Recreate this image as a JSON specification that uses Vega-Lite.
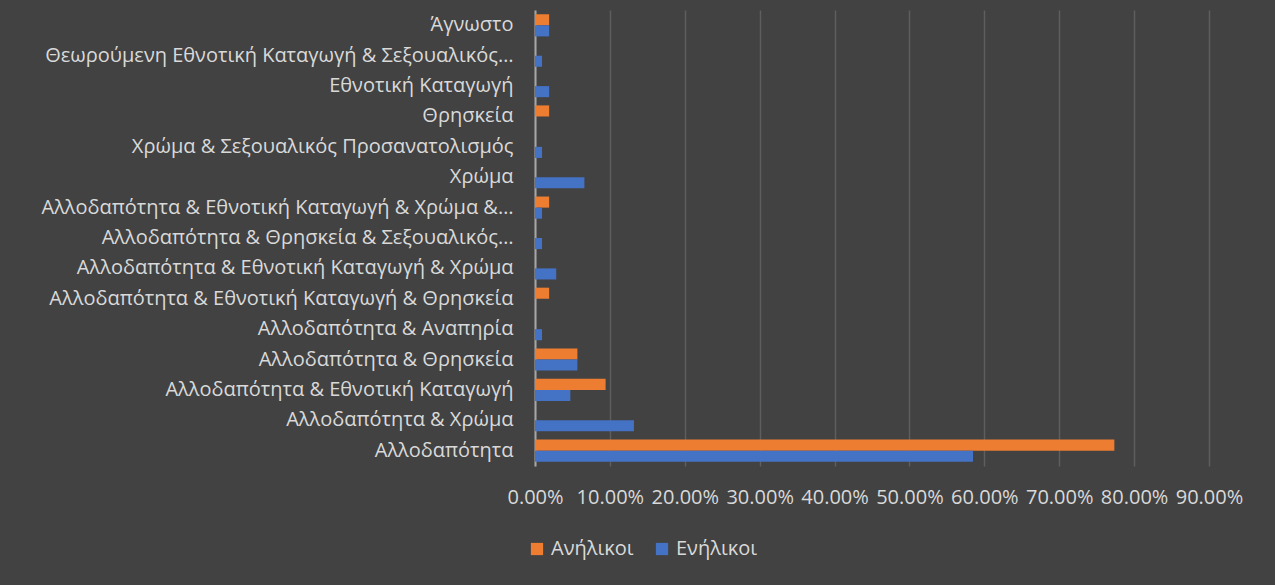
{
  "$schema": "https://vega.github.io/schema/vega-lite/v6.json",
  "autosize": "none",
  "width": 674,
  "height": 456,
  "padding": {"left": 535, "top": 10, "right": 66, "bottom": 119},
  "background": "#424242",
  "config": {"view": {"stroke": null}, "font": "Open Sans"},
  "data": {
    "values": [
      {"category": "Αλλοδαπότητα", "group": "Ανήλικοι", "value": 0.7736},
      {"category": "Αλλοδαπότητα", "group": "Ενήλικοι", "value": 0.5849},
      {"category": "Αλλοδαπότητα & Χρώμα", "group": "Ενήλικοι", "value": 0.1321},
      {"category": "Αλλοδαπότητα & Εθνοτική Καταγωγή", "group": "Ανήλικοι", "value": 0.0943},
      {"category": "Αλλοδαπότητα & Εθνοτική Καταγωγή", "group": "Ενήλικοι", "value": 0.0472},
      {"category": "Αλλοδαπότητα & Θρησκεία", "group": "Ανήλικοι", "value": 0.0566},
      {"category": "Αλλοδαπότητα & Θρησκεία", "group": "Ενήλικοι", "value": 0.0566},
      {"category": "Αλλοδαπότητα & Αναπηρία", "group": "Ενήλικοι", "value": 0.0094},
      {"category": "Αλλοδαπότητα & Εθνοτική Καταγωγή & Θρησκεία", "group": "Ανήλικοι", "value": 0.0189},
      {"category": "Αλλοδαπότητα & Εθνοτική Καταγωγή & Χρώμα", "group": "Ενήλικοι", "value": 0.0283},
      {"category": "Αλλοδαπότητα & Θρησκεία & Σεξουαλικός…", "group": "Ενήλικοι", "value": 0.0094},
      {"category": "Αλλοδαπότητα & Εθνοτική Καταγωγή & Χρώμα &…", "group": "Ανήλικοι", "value": 0.0189},
      {"category": "Αλλοδαπότητα & Εθνοτική Καταγωγή & Χρώμα &…", "group": "Ενήλικοι", "value": 0.0094},
      {"category": "Χρώμα", "group": "Ενήλικοι", "value": 0.066},
      {"category": "Χρώμα & Σεξουαλικός Προσανατολισμός", "group": "Ενήλικοι", "value": 0.0094},
      {"category": "Θρησκεία", "group": "Ανήλικοι", "value": 0.0189},
      {"category": "Εθνοτική Καταγωγή", "group": "Ενήλικοι", "value": 0.0189},
      {"category": "Θεωρούμενη Εθνοτική Καταγωγή & Σεξουαλικός…", "group": "Ενήλικοι", "value": 0.0094},
      {"category": "Άγνωστο", "group": "Ανήλικοι", "value": 0.0189},
      {"category": "Άγνωστο", "group": "Ενήλικοι", "value": 0.0189}
    ]
  },
  "mark": {"type": "bar"},
  "encoding": {
    "y": {
      "field": "category",
      "type": "nominal",
      "sort": [
        "Άγνωστο",
        "Θεωρούμενη Εθνοτική Καταγωγή & Σεξουαλικός…",
        "Εθνοτική Καταγωγή",
        "Θρησκεία",
        "Χρώμα & Σεξουαλικός Προσανατολισμός",
        "Χρώμα",
        "Αλλοδαπότητα & Εθνοτική Καταγωγή & Χρώμα &…",
        "Αλλοδαπότητα & Θρησκεία & Σεξουαλικός…",
        "Αλλοδαπότητα & Εθνοτική Καταγωγή & Χρώμα",
        "Αλλοδαπότητα & Εθνοτική Καταγωγή & Θρησκεία",
        "Αλλοδαπότητα & Αναπηρία",
        "Αλλοδαπότητα & Θρησκεία",
        "Αλλοδαπότητα & Εθνοτική Καταγωγή",
        "Αλλοδαπότητα & Χρώμα",
        "Αλλοδαπότητα"
      ],
      "scale": {"paddingInner": 0.27, "paddingOuter": 0.14},
      "axis": {
        "title": null,
        "labelColor": "#d9d9d9",
        "labelFontSize": 20,
        "labelPadding": 22,
        "ticks": false,
        "domainColor": "#a6a6a6",
        "domainWidth": 2,
        "labelLimit": 530
      }
    },
    "yOffset": {
      "field": "group",
      "type": "nominal",
      "scale": {"domain": ["Ανήλικοι", "Ενήλικοι"]}
    },
    "x": {
      "field": "value",
      "type": "quantitative",
      "scale": {"domain": [0, 0.9], "nice": false},
      "axis": {
        "title": null,
        "format": ".2%",
        "values": [0, 0.1, 0.2, 0.3, 0.4, 0.5, 0.6, 0.7, 0.8, 0.9],
        "labelColor": "#d9d9d9",
        "labelFontSize": 20,
        "labelPadding": 21,
        "ticks": false,
        "domain": false,
        "gridColor": "#5e5e5e",
        "gridWidth": 1.5,
        "labelOverlap": false,
        "labelFlush": false
      }
    },
    "color": {
      "field": "group",
      "type": "nominal",
      "scale": {"domain": ["Ανήλικοι", "Ενήλικοι"], "range": ["#ED7D31", "#4472C4"]},
      "legend": {
        "title": null,
        "orient": "none",
        "legendX": -8,
        "legendY": 529,
        "direction": "horizontal",
        "labelColor": "#d9d9d9",
        "labelFontSize": 20,
        "symbolType": "square",
        "symbolSize": 150,
        "symbolStrokeWidth": 0,
        "columnPadding": 18,
        "labelOffset": 4
      }
    }
  }
}
